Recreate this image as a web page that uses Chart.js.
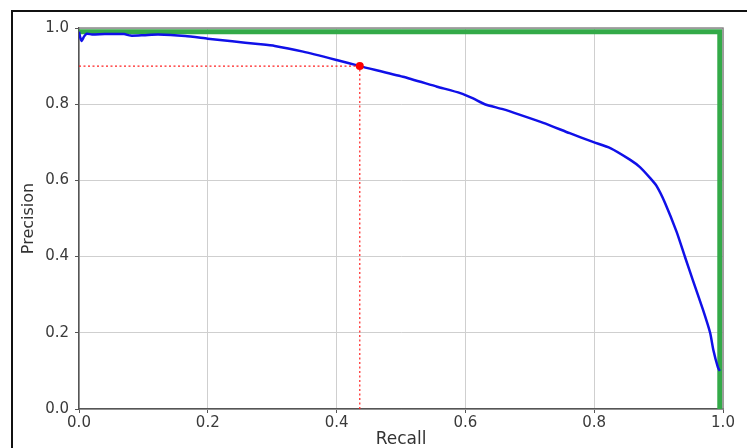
<!DOCTYPE html>
<html>
<head>
<meta charset="utf-8">
<script src="https://cdn.jsdelivr.net/npm/chart.js@4.4.1/dist/chart.umd.min.js"></script>
<style>
  html, body { margin: 0; padding: 0; background: #ffffff; }
  #wrap { position: relative; width: 747px; height: 448px; overflow: hidden; background: #fff; }
  #frame { position: absolute; left: 11px; top: 10px; width: 800px; height: 500px; border: 2px solid #111; box-sizing: border-box; pointer-events: none; }
  canvas { position: absolute; left: 0; top: 0; }
</style>
</head>
<body>
<div id="wrap">
  <canvas id="c" width="747" height="448"></canvas>
  <div id="frame"></div>
</div>
<script>
// ---- data ----
const recall = [0.000, 0.002, 0.004, 0.008, 0.012, 0.020, 0.040, 0.070, 0.080, 0.100, 0.123, 0.165, 0.200, 0.238, 0.278, 0.304, 0.348, 0.400, 0.436, 0.503, 0.556, 0.592, 0.612, 0.630, 0.658, 0.685, 0.721, 0.762, 0.798, 0.825, 0.856, 0.871, 0.887, 0.897, 0.910, 0.928, 0.941, 0.953, 0.969, 0.980, 0.985, 0.992, 0.995];
const precision = [0.990, 0.975, 0.966, 0.978, 0.985, 0.983, 0.984, 0.984, 0.980, 0.981, 0.983, 0.979, 0.972, 0.965, 0.958, 0.953, 0.938, 0.916, 0.900, 0.872, 0.846, 0.829, 0.815, 0.800, 0.787, 0.772, 0.751, 0.724, 0.701, 0.685, 0.654, 0.635, 0.606, 0.585, 0.541, 0.465, 0.399, 0.339, 0.260, 0.200, 0.155, 0.110, 0.100];
const perfectX = [0.0, 0.995, 0.995];
const perfectY = [0.99, 0.99, 0.0];
const thresholdRecall = 0.436;
const thresholdPrecision = 0.90;
const tickValues = [0.0, 0.2, 0.4, 0.6, 0.8, 1.0];
const xTitle = "Recall";
const yTitle = "Precision";

const zip = (xs, ys) => xs.map((x, i) => ({ x: x, y: ys[i] }));

const spinePlugin = {
  id: 'spines',
  afterDatasetsDraw(chart) {
    const { ctx, chartArea: a } = chart;
    ctx.save();
    ctx.strokeStyle = '#8a8a8a';
    ctx.lineWidth = 1.5;
    ctx.beginPath();
    ctx.moveTo(a.left, a.top);
    ctx.lineTo(a.right, a.top);
    ctx.lineTo(a.right, a.bottom);
    ctx.stroke();
    ctx.restore();
  }
};

new Chart(document.getElementById('c'), {
  type: 'line',
  data: {
    datasets: [
      {
        label: 'perfect',
        data: zip(perfectX, perfectY),
        borderColor: '#33aa48',
        borderWidth: 5,
        pointRadius: 0,
        tension: 0,
        order: 3
      },
      {
        label: 'PR curve',
        data: zip(recall, precision),
        borderColor: '#1010e8',
        borderWidth: 2.5,
        pointRadius: 0,
        tension: 0.2,
        order: 2
      },
      {
        label: 'hline',
        data: zip([0, thresholdRecall], [thresholdPrecision, thresholdPrecision]),
        borderColor: '#ff2020',
        borderWidth: 1.2,
        borderDash: [2, 2.5],
        pointRadius: 0,
        order: 1
      },
      {
        label: 'vline',
        data: zip([thresholdRecall, thresholdRecall], [0, thresholdPrecision]),
        borderColor: '#ff2020',
        borderWidth: 1.2,
        borderDash: [2, 2.5],
        pointRadius: 0,
        order: 1
      },
      {
        label: 'point',
        data: zip([thresholdRecall], [thresholdPrecision]),
        showLine: false,
        pointRadius: 4,
        pointBackgroundColor: '#ff0000',
        pointBorderColor: '#ff0000',
        pointBorderWidth: 0,
        order: 0
      }
    ]
  },
  options: {
    responsive: false,
    animation: false,
    events: [],
    layout: { padding: { top: 28, right: 24, left: 0, bottom: 0 } },
    plugins: { legend: { display: false }, tooltip: { enabled: false } },
    scales: {
      x: {
        type: 'linear',
        min: 0, max: 1,
        afterFit(s) { s.height = 39; },
        afterBuildTicks(s) { s.ticks = tickValues.map(v => ({ value: v })); },
        ticks: {
          callback: v => v.toFixed(1),
          color: '#3a3a3a',
          font: { family: 'DejaVu Sans', size: 15 },
          padding: 1,
          maxRotation: 0
        },
        grid: { color: '#cfcfcf', lineWidth: 1, tickLength: 4, tickColor: '#555', drawTicks: true },
        border: { color: '#555', width: 1.5 },
        title: {
          display: true, text: xTitle, color: '#333',
          font: { family: 'DejaVu Sans', size: 17, lineHeight: 1 },
          padding: { top: 0, bottom: 0 }
        }
      },
      y: {
        type: 'linear',
        min: 0, max: 1,
        afterFit(s) { s.width = 79; },
        afterBuildTicks(s) { s.ticks = tickValues.map(v => ({ value: v })); },
        ticks: {
          callback: v => v.toFixed(1),
          color: '#3a3a3a',
          font: { family: 'DejaVu Sans', size: 15 },
          padding: 6
        },
        grid: { color: '#cfcfcf', lineWidth: 1, tickLength: 4, tickColor: '#555', drawTicks: true },
        border: { color: '#555', width: 1.5 },
        title: {
          display: true, text: yTitle, color: '#333',
          font: { family: 'DejaVu Sans', size: 16, lineHeight: 1.2 },
          padding: { top: 19, bottom: 0 }
        }
      }
    }
  },
  plugins: [spinePlugin]
});
</script>
</body>
</html>
